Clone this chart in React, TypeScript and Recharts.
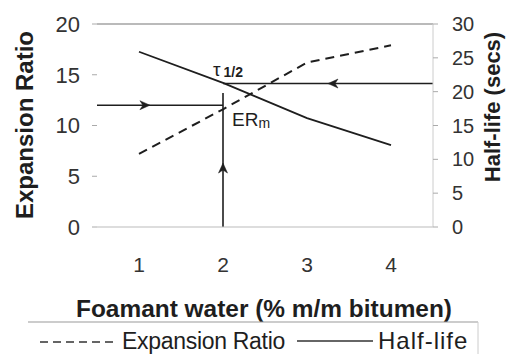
import React from 'react';
import { ComposedChart, Line, XAxis, YAxis, ReferenceLine, ReferenceDot, Label } from 'recharts';

// ---- data ----
const xValues = [1, 2, 3, 4];
const expansionRatio = [7.2, 11.6, 16.2, 17.9];
const halfLife = [25.9, 21.3, 16.1, 12.1];
const xTicks = [1, 2, 3, 4];
const leftTicks = [0, 5, 10, 15, 20];
const rightTicks = [0, 5, 10, 15, 20, 25, 30];
// annotation values
const ermValue = 12; // ER_m on left axis
const optimumWater = 2;
const tauValue = 21.2; // tau 1/2 on right axis
const verticalTop = 13.2; // left axis
const xDomain: [number, number] = [0.5, 4.5];

const FONT = '"Liberation Sans", Arial, sans-serif';
const INK = '#1e1e1e';

const data = xValues.map((x, i) => ({ x, er: expansionRatio[i], hl: halfLife[i] }));

const arrow = (dir: 'right' | 'left' | 'up') => (p: any) => {
  const { cx, cy } = p;
  let d = '';
  if (dir === 'right') d = `M${cx},${cy} L${cx - 10},${cy - 4.5} L${cx - 7},${cy} L${cx - 10},${cy + 4.5} Z`;
  if (dir === 'left') d = `M${cx},${cy} L${cx + 10},${cy - 4.5} L${cx + 7},${cy} L${cx + 10},${cy + 4.5} Z`;
  if (dir === 'up') d = `M${cx},${cy} L${cx - 4.5},${cy + 10} L${cx},${cy + 7} L${cx + 4.5},${cy + 10} Z`;
  return <path d={d} fill={INK} stroke={INK} strokeWidth={0.5} />;
};

const tauLabel = (p: any) => (
  <text x={p.cx - 10} y={p.cy - 8} fontFamily={FONT} fontSize={19} fill={INK}>
    τ
    <tspan dx={3} dy={1} fontSize={14} fontWeight="bold" fill={INK}>1/2</tspan>
  </text>
);

const ermLabel = (p: any) => (
  <text x={p.cx + 9} y={p.cy + 21} fontFamily={FONT} fontSize={19} fill={INK}>
    ER
    <tspan dy={2} fontSize={14} fill={INK}>m</tspan>
  </text>
);

export default function App() {
  return (
    <div style={{ position: 'absolute', left: 0, top: 0, width: 507, height: 354, background: '#fff' }}>
      <ComposedChart width={507} height={354} data={data} margin={{ top: 24, right: 0, bottom: 0, left: 0 }}>
        <XAxis
          dataKey="x"
          type="number"
          domain={xDomain}
          ticks={xTicks}
          height={127}
          tickSize={6}
          tickMargin={24}
          tickLine={false}
          axisLine={{ stroke: '#bbb' }}
          tick={{ fontSize: 21, fill: '#333', fontFamily: FONT }}
        >
          <Label
            content={(p: any) => {
              const vb = p.viewBox;
              return (
                <text x={vb.x + vb.width / 2 - 1} y={vb.y + 90} textAnchor="middle" fontFamily={FONT} fontSize={24} fontWeight="bold" fill={INK} textLength={376} lengthAdjust="spacingAndGlyphs">
                  Foamant water (% m/m bitumen)
                </text>
              );
            }}
          />
        </XAxis>
        <YAxis
          yAxisId="left"
          orientation="left"
          domain={[0, 20]}
          ticks={leftTicks}
          width={97}
          tickSize={5}
          tickMargin={12}
          axisLine={false}
          tickLine={{ stroke: '#aaa' }}
          tick={{ fontSize: 22, fill: '#333', fontFamily: FONT }}
        >
          <Label
            content={() => (
              <text x={33} y={125} transform="rotate(-90, 33, 125)" textAnchor="middle" fontFamily={FONT} fontSize={24} fontWeight="bold" fill={INK}>
                Expansion Ratio
              </text>
            )}
          />
        </YAxis>
        <YAxis
          yAxisId="right"
          orientation="right"
          domain={[0, 30]}
          ticks={rightTicks}
          width={74}
          tickSize={5}
          tickMargin={14}
          axisLine={{ stroke: '#ccc' }}
          tickLine={{ stroke: '#aaa' }}
          tick={{ fontSize: 20, fill: '#333', fontFamily: FONT }}
        >
          <Label
            content={() => (
              <text x={500} y={107} transform="rotate(-90, 500, 107)" textAnchor="middle" fontFamily={FONT} fontSize={22} fontWeight="bold" fill={INK}>
                Half-life (secs)
              </text>
            )}
          />
        </YAxis>

        <ReferenceLine yAxisId="left" y={20} stroke="#777" strokeWidth={1.2} />

        <ReferenceLine yAxisId="left" segment={[{ x: xDomain[0], y: ermValue }, { x: optimumWater, y: ermValue }]} stroke={INK} strokeWidth={1.6} />
        <ReferenceLine yAxisId="left" segment={[{ x: optimumWater, y: 0 }, { x: optimumWater, y: verticalTop }]} stroke={INK} strokeWidth={1.6} />
        <ReferenceLine yAxisId="right" segment={[{ x: optimumWater, y: tauValue }, { x: xDomain[1], y: tauValue }]} stroke={INK} strokeWidth={1.6} />

        <Line yAxisId="left" dataKey="er" stroke={INK} strokeWidth={2} strokeDasharray="9 6" dot={false} isAnimationActive={false} />
        <Line yAxisId="right" dataKey="hl" stroke={INK} strokeWidth={1.8} dot={false} isAnimationActive={false} />

        <ReferenceDot yAxisId="left" x={1.13} y={ermValue} r={1} shape={arrow('right')} />
        <ReferenceDot yAxisId="left" x={optimumWater} y={6.3} r={1} shape={arrow('up')} />
        <ReferenceDot yAxisId="right" x={3.25} y={tauValue} r={1} shape={arrow('left')} />
        <ReferenceDot yAxisId="right" x={optimumWater} y={tauValue} r={1} shape={tauLabel} />
        <ReferenceDot yAxisId="left" x={optimumWater} y={ermValue} r={1} shape={ermLabel} />
      </ComposedChart>

      <svg width={507} height={354} style={{ position: 'absolute', left: 0, top: 0, pointerEvents: 'none' }}>
        <line x1={28} y1={322} x2={478} y2={322} stroke="#999" strokeWidth={1} />
        <line x1={478} y1={322} x2={478} y2={354} stroke="#ccc" strokeWidth={1} />
        <line x1={40} y1={342} x2={114} y2={342} stroke="#333" strokeWidth={1.6} strokeDasharray="8 5" />
        <text x={122} y={349} fontFamily={FONT} fontSize={23} fill={INK} letterSpacing={-0.3}>
          Expansion Ratio
        </text>
        <line x1={297} y1={341} x2={373} y2={341} stroke="#333" strokeWidth={1.6} />
        <text x={378} y={349} fontFamily={FONT} fontSize={24} fill={INK} letterSpacing={1}>
          Half-life
        </text>
      </svg>
    </div>
  );
}
